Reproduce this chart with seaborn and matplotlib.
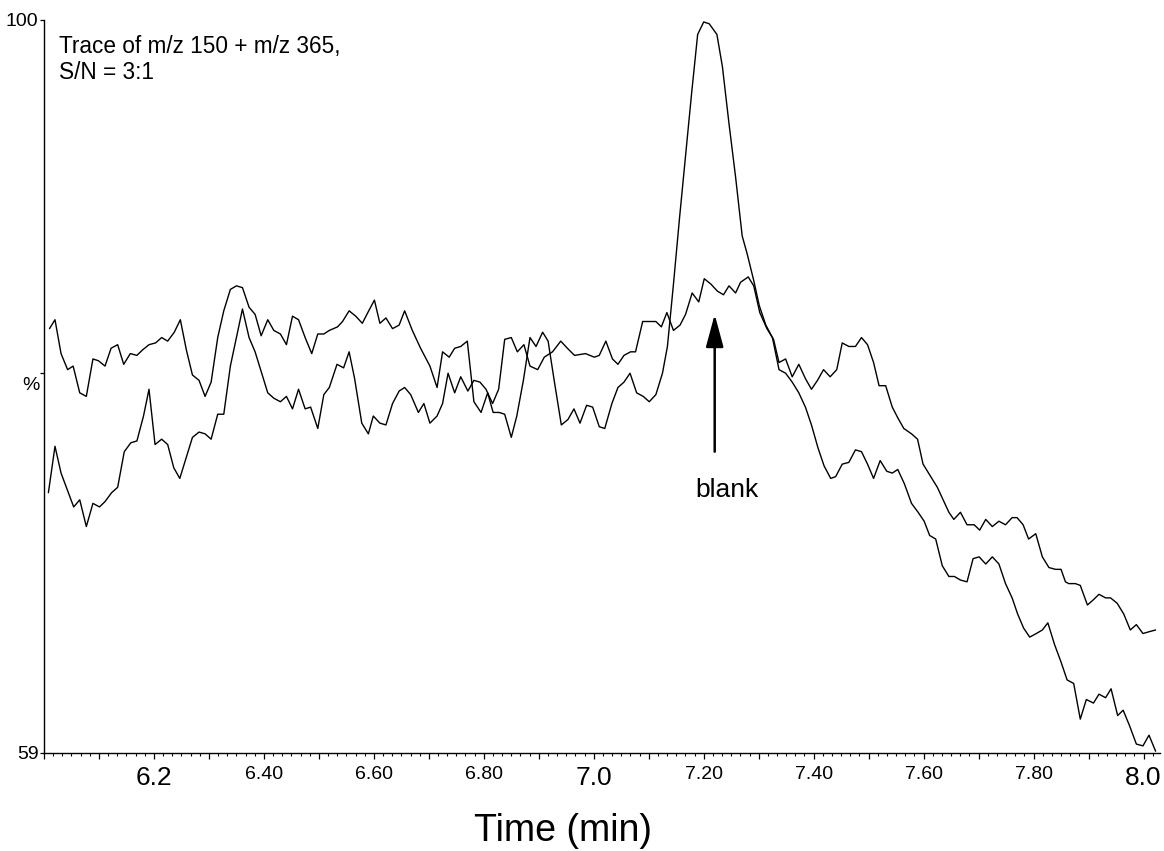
import numpy as np
import pandas as pd
import matplotlib
matplotlib.use("Agg")
import matplotlib.pyplot as plt
from matplotlib.ticker import MultipleLocator, FixedLocator
import seaborn as sns

# --- chromatogram data: retention time (min) and relative intensity (%) ---
sample_time = [
    6.010, 6.020, 6.031, 6.043, 6.053, 6.065, 6.077, 6.089, 6.099, 6.111,
    6.122, 6.134, 6.145, 6.157, 6.169, 6.179, 6.191, 6.203, 6.214, 6.225,
    6.237, 6.248, 6.259, 6.270, 6.282, 6.293, 6.304, 6.316, 6.327, 6.339,
    6.350, 6.361, 6.373, 6.384, 6.395, 6.407, 6.418, 6.430, 6.441, 6.452,
    6.463, 6.475, 6.487, 6.498, 6.509, 6.519, 6.534, 6.543, 6.555, 6.567,
    6.579, 6.589, 6.601, 6.611, 6.622, 6.634, 6.646, 6.656, 6.670, 6.685,
    6.702, 6.715, 6.725, 6.737, 6.747, 6.758, 6.770, 6.782, 6.795, 6.807,
    6.817, 6.828, 6.838, 6.850, 6.860, 6.872, 6.884, 6.895, 6.907, 6.917,
    6.928, 6.941, 6.953, 6.964, 6.975, 6.987, 6.998, 7.010, 7.020, 7.033,
    7.044, 7.055, 7.066, 7.078, 7.090, 7.101, 7.113, 7.125, 7.134, 7.145,
    7.156, 7.167, 7.178, 7.189, 7.200, 7.210, 7.224, 7.234, 7.246, 7.258,
    7.270, 7.279, 7.291, 7.301, 7.313, 7.325, 7.337, 7.349, 7.361, 7.373,
    7.385, 7.396, 7.408, 7.419, 7.431, 7.440, 7.452, 7.464, 7.476, 7.487,
    7.498, 7.509, 7.521, 7.533, 7.543, 7.553, 7.565, 7.578, 7.590, 7.601,
    7.611, 7.622, 7.634, 7.646, 7.656, 7.667, 7.679, 7.690, 7.701, 7.713,
    7.725, 7.737, 7.749, 7.761, 7.771, 7.782, 7.793, 7.805, 7.816, 7.826,
    7.838, 7.850, 7.861, 7.873, 7.885, 7.896, 7.909, 7.919, 7.931, 7.941,
    7.953, 7.963, 7.975, 7.987, 7.999, 8.010, 8.022,
]
sample_intensity = [
    82.8, 83.3, 81.4, 80.5, 80.7, 79.2, 79.0, 81.1, 81.0, 80.7,
    81.7, 81.9, 80.8, 81.4, 81.3, 81.6, 81.9, 82.0, 82.3, 82.1,
    82.6, 83.3, 81.6, 80.2, 79.9, 79.0, 79.8, 82.3, 83.8, 85.0,
    85.2, 85.1, 84.0, 83.6, 82.4, 83.3, 82.7, 82.5, 81.9, 83.5,
    83.3, 82.3, 81.4, 82.5, 82.5, 82.7, 82.9, 83.2, 83.8, 83.5,
    83.1, 83.7, 84.4, 83.1, 83.4, 82.8, 83.0, 83.8, 82.7, 81.7,
    80.7, 79.5, 81.5, 81.2, 81.7, 81.8, 82.1, 78.7, 78.1, 79.2,
    78.1, 78.1, 78.0, 76.7, 77.9, 79.9, 82.3, 81.8, 82.6, 82.1,
    79.9, 77.4, 77.7, 78.3, 77.5, 78.5, 78.4, 77.3, 77.2, 78.6,
    79.5, 79.8, 80.3, 79.2, 79.0, 78.7, 79.1, 80.3, 81.8, 85.3,
    89.0, 92.5, 96.0, 99.3, 100.0, 99.9, 99.3, 97.5, 94.3, 91.3,
    88.0, 87.0, 85.5, 84.1, 83.0, 82.3, 80.5, 80.3, 79.8, 79.2,
    78.4, 77.4, 76.1, 75.1, 74.4, 74.5, 75.2, 75.3, 76.0, 75.9,
    75.2, 74.4, 75.4, 74.8, 74.7, 74.9, 74.1, 73.0, 72.5, 72.0,
    71.2, 71.0, 69.5, 68.9, 68.9, 68.7, 68.6, 69.9, 70.0, 69.6,
    70.0, 69.6, 68.5, 67.7, 66.8, 66.0, 65.5, 65.7, 65.9, 66.3,
    65.1, 64.1, 63.1, 62.9, 60.9, 62.0, 61.8, 62.3, 62.1, 62.6,
    61.1, 61.4, 60.5, 59.5, 59.4, 60.0, 59.1,
]

blank_time = [
    6.008, 6.020, 6.031, 6.043, 6.054, 6.065, 6.077, 6.089, 6.101, 6.111,
    6.123, 6.134, 6.146, 6.158, 6.169, 6.181, 6.191, 6.202, 6.214, 6.225,
    6.236, 6.247, 6.259, 6.270, 6.282, 6.293, 6.304, 6.316, 6.327, 6.339,
    6.350, 6.361, 6.373, 6.384, 6.395, 6.407, 6.418, 6.430, 6.441, 6.452,
    6.463, 6.475, 6.485, 6.498, 6.509, 6.519, 6.533, 6.545, 6.555, 6.565,
    6.578, 6.590, 6.599, 6.611, 6.622, 6.634, 6.646, 6.656, 6.667, 6.681,
    6.691, 6.702, 6.715, 6.725, 6.735, 6.747, 6.758, 6.771, 6.782, 6.793,
    6.804, 6.816, 6.827, 6.838, 6.850, 6.861, 6.873, 6.884, 6.898, 6.910,
    6.925, 6.940, 6.952, 6.965, 6.985, 7.001, 7.010, 7.022, 7.034, 7.044,
    7.055, 7.067, 7.076, 7.089, 7.101, 7.113, 7.123, 7.133, 7.145, 7.157,
    7.167, 7.179, 7.191, 7.201, 7.213, 7.225, 7.236, 7.246, 7.258, 7.267,
    7.281, 7.291, 7.302, 7.315, 7.327, 7.337, 7.349, 7.361, 7.373, 7.385,
    7.396, 7.407, 7.418, 7.430, 7.442, 7.452, 7.464, 7.476, 7.487, 7.498,
    7.509, 7.519, 7.531, 7.543, 7.553, 7.564, 7.578, 7.589, 7.599, 7.611,
    7.625, 7.637, 7.646, 7.655, 7.667, 7.679, 7.692, 7.702, 7.713, 7.725,
    7.737, 7.749, 7.761, 7.770, 7.781, 7.791, 7.804, 7.816, 7.828, 7.840,
    7.850, 7.858, 7.864, 7.876, 7.885, 7.898, 7.909, 7.919, 7.931, 7.940,
    7.952, 7.964, 7.976, 7.987, 7.999, 8.010, 8.022,
]
blank_intensity = [
    73.6, 76.2, 74.7, 73.7, 72.8, 73.2, 71.7, 73.0, 72.8, 73.1,
    73.6, 73.9, 75.9, 76.4, 76.5, 77.9, 79.4, 76.3, 76.6, 76.3,
    75.0, 74.4, 75.6, 76.7, 77.0, 76.9, 76.6, 78.0, 78.0, 80.7,
    82.3, 83.9, 82.3, 81.5, 80.4, 79.2, 78.9, 78.7, 79.0, 78.3,
    79.4, 78.3, 78.4, 77.2, 79.1, 79.5, 80.8, 80.6, 81.5, 80.0,
    77.5, 76.9, 77.9, 77.5, 77.4, 78.6, 79.3, 79.5, 79.1, 78.1,
    78.6, 77.5, 77.9, 78.6, 80.3, 79.2, 80.1, 79.3, 79.9, 79.8,
    79.4, 78.6, 79.4, 82.2, 82.3, 81.5, 81.9, 80.7, 80.5, 81.2,
    81.5, 82.1, 81.7, 81.3, 81.4, 81.2, 81.3, 82.1, 81.1, 80.8,
    81.3, 81.5, 81.5, 83.2, 83.2, 83.2, 82.9, 83.7, 82.7, 83.0,
    83.6, 84.8, 84.3, 85.6, 85.3, 84.9, 84.7, 85.2, 84.8, 85.4,
    85.7, 85.2, 83.7, 82.8, 82.2, 80.9, 81.1, 80.1, 80.8, 80.0,
    79.4, 79.9, 80.5, 80.1, 80.5, 82.0, 81.8, 81.8, 82.3, 81.9,
    80.9, 79.6, 79.6, 78.4, 77.8, 77.2, 76.9, 76.6, 75.2, 74.6,
    73.9, 73.1, 72.5, 72.1, 72.5, 71.8, 71.8, 71.5, 72.1, 71.7,
    72.0, 71.8, 72.2, 72.2, 71.8, 71.0, 71.3, 70.0, 69.4, 69.3,
    69.3, 68.6, 68.5, 68.5, 68.4, 67.3, 67.6, 67.9, 67.7, 67.7,
    67.4, 66.8, 65.9, 66.2, 65.7, 65.8, 65.9,
]

# x tick labels (mixed large / small labels)
xtick_values = [6.2, 6.4, 6.6, 6.8, 7.0, 7.2, 7.4, 7.6, 7.8, 8.0]
xtick_text = ["6.2", "6.40", "6.60", "6.80", "7.0", "7.20", "7.40", "7.60", "7.80", "8.0"]
large_xticks = {"6.2", "7.0", "8.0"}

annotation_text = "Trace of m/z 150 + m/z 365,\nS/N = 3:1"
blank_label = "blank"
blank_arrow_time = 7.22
blank_arrow_from = 75.9
blank_arrow_to = 83.6

df = pd.concat([
    pd.DataFrame({"time": sample_time, "intensity": sample_intensity, "trace": "sample"}),
    pd.DataFrame({"time": blank_time, "intensity": blank_intensity, "trace": "blank"}),
], ignore_index=True)

sns.set_theme(style="white")
plt.rcParams["font.family"] = ["Liberation Sans", "DejaVu Sans"]
plt.rcParams["axes.edgecolor"] = "black"

fig = plt.figure(figsize=(11.64, 8.51), dpi=100)
ax = fig.add_axes([44 / 1164, 98 / 851, 1116 / 1164, 733 / 851])

sns.lineplot(data=df, x="time", y="intensity", units="trace", estimator=None,
             color="black", linewidth=1.0, sort=False, ax=ax)

ax.set_xlim(6.0, 8.03)
ax.set_ylim(59, 100.11)

for side in ("top", "right"):
    ax.spines[side].set_visible(False)
for side in ("left", "bottom"):
    ax.spines[side].set_linewidth(1.0)
    ax.spines[side].set_color("black")

# x axis: major ticks each 0.1 min, minor ticks each second
major_pos = [round(6.0 + 0.1 * i, 1) for i in range(21)]
label_map = dict(zip(xtick_values, xtick_text))
ax.xaxis.set_major_locator(FixedLocator(major_pos))
ax.set_xticklabels([label_map.get(p, "") for p in major_pos])
ax.xaxis.set_minor_locator(MultipleLocator(1 / 60))
ax.tick_params(axis="x", which="major", direction="out", length=4.5, width=0.9,
               color="black", pad=5, bottom=True)
ax.tick_params(axis="x", which="minor", direction="out", length=2.2, width=0.8,
               color="black", bottom=True)
for lab in ax.get_xticklabels():
    lab.set_fontsize(19 if lab.get_text() in large_xticks else 14)
    lab.set_color("black")

# y axis: only the range ends are labelled
ax.set_yticks([59, 80.3, 100.11])
ax.set_yticklabels(["59", "", "100"])
ax.tick_params(axis="y", which="major", direction="out", length=3, width=0.9,
               color="black", pad=1, left=True, labelsize=14, labelcolor="black")
ax.set_xlabel("")
ax.set_ylabel("")

ax.text(-0.0116, 0.5007, "%", transform=ax.transAxes, ha="center", va="center",
        fontsize=14, color="black")

ax.text(0.0134, 0.980, annotation_text, transform=ax.transAxes, ha="left", va="top",
        fontsize=16.3, color="black", linespacing=1.2)

ax.annotate("", xy=(blank_arrow_time, blank_arrow_to),
            xytext=(blank_arrow_time, blank_arrow_from),
            arrowprops=dict(arrowstyle="-|>,head_length=1.0,head_width=0.27",
                            mutation_scale=20, lw=1.8, color="black",
                            shrinkA=0, shrinkB=0))
ax.text(7.2427, 73.36, blank_label, ha="center", va="baseline", fontsize=19, color="black")

fig.text(563 / 1164, 1 - 831 / 851, "Time (min)", ha="center", va="center",
         fontsize=27, color="black")

fig.savefig("out.png", dpi=100, facecolor="white")
